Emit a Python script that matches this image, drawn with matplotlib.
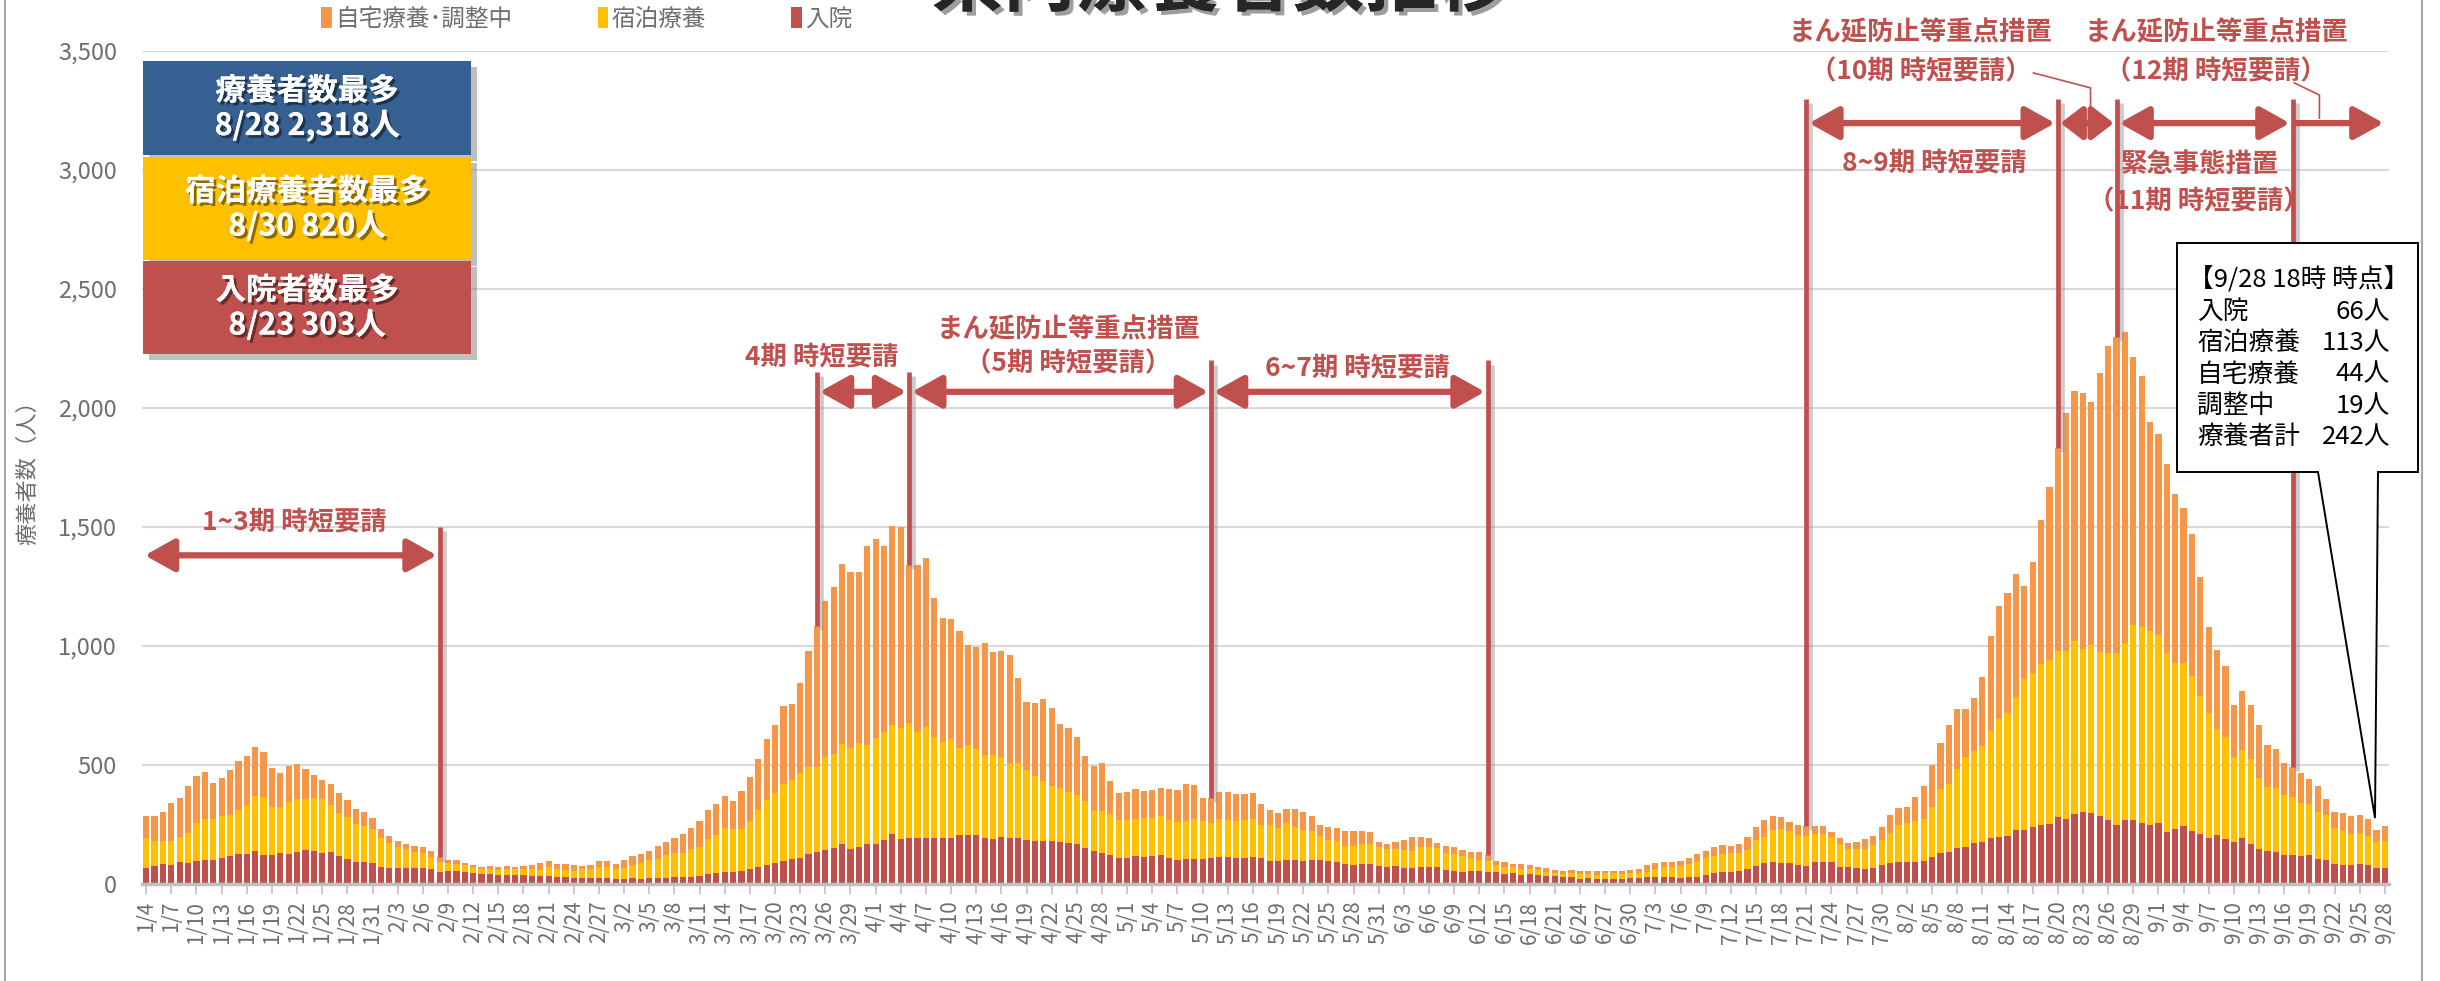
import numpy as np
import pandas as pd
import matplotlib
matplotlib.use("Agg")
import matplotlib.pyplot as plt
import matplotlib.patheffects as pe
from matplotlib.patches import Rectangle, Polygon
from matplotlib.lines import Line2D
from matplotlib.ticker import StrMethodFormatter

plt.rcParams['font.family'] = ['Noto Sans CJK JP', 'DejaVu Sans']

# Daily dates 1/4 - 9/28
dates = pd.date_range("2021-01-04", "2021-09-28")
date_labels = [f"{d.month}/{d.day}" for d in dates]

# 入院
hospital = [
    69, 77, 85, 81, 91, 90, 98, 101, 101, 111,
    119, 127, 127, 139, 123, 123, 129, 127, 133, 143,
    139, 129, 133, 119, 105, 94, 91, 87, 73, 69,
    69, 69, 67, 69, 62, 52, 56, 55, 50, 48,
    42, 42, 38, 38, 38, 38, 35, 35, 35, 31,
    29, 24, 24, 25, 25, 25, 21, 21, 24, 21,
    27, 27, 27, 31, 31, 29, 34, 42, 48, 52,
    52, 56, 63, 70, 78, 88, 98, 104, 109, 126,
    134, 144, 151, 168, 147, 155, 169, 169, 185, 210,
    189, 195, 195, 195, 195, 195, 195, 206, 206, 206,
    195, 190, 197, 192, 192, 185, 181, 181, 181, 175,
    174, 168, 153, 139, 130, 123, 111, 108, 118, 115,
    118, 122, 109, 101, 105, 105, 105, 109, 115, 115,
    111, 111, 113, 111, 98, 98, 102, 99, 98, 102,
    99, 98, 94, 85, 81, 83, 84, 74, 73, 76,
    69, 67, 70, 70, 70, 59, 55, 52, 53, 55,
    52, 50, 43, 46, 39, 42, 38, 35, 34, 29,
    28, 22, 25, 20, 21, 22, 22, 25, 25, 29,
    31, 31, 31, 27, 29, 29, 38, 48, 52, 52,
    56, 63, 76, 87, 94, 87, 87, 80, 77, 91,
    91, 92, 73, 71, 69, 63, 69, 78, 90, 92,
    92, 92, 95, 115, 132, 133, 150, 157, 174, 178,
    195, 199, 203, 227, 227, 239, 249, 253, 280, 272,
    295, 303, 297, 284, 269, 246, 269, 271, 258, 249,
    255, 219, 229, 242, 223, 208, 194, 205, 188, 177,
    194, 170, 145, 139, 136, 121, 121, 116, 121, 107,
    102, 86, 81, 81, 83, 78, 66, 66,
]

# 宿泊療養
hotel = [
    126, 104, 96, 100, 108, 123, 157, 171, 173, 176,
    171, 184, 203, 231, 241, 199, 196, 219, 224, 214,
    224, 228, 200, 181, 178, 158, 153, 143, 122, 102,
    88, 79, 67, 61, 50, 42, 31, 29, 28, 21,
    21, 21, 21, 25, 24, 24, 27, 24, 36, 31,
    30, 32, 38, 37, 46, 46, 41, 46, 54, 66,
    72, 77, 93, 98, 101, 118, 120, 147, 159, 183,
    179, 175, 200, 241, 275, 293, 322, 331, 357, 367,
    359, 391, 395, 420, 426, 436, 415, 444, 453, 456,
    466, 480, 445, 463, 421, 401, 414, 367, 378, 360,
    347, 352, 338, 312, 315, 294, 274, 252, 231, 228,
    212, 206, 196, 168, 177, 171, 158, 161, 155, 162,
    159, 164, 160, 161, 158, 168, 161, 147, 158, 155,
    155, 158, 159, 137, 150, 137, 154, 142, 130, 121,
    104, 87, 87, 76, 80, 84, 84, 81, 73, 71,
    74, 73, 87, 84, 80, 70, 71, 66, 55, 46,
    45, 31, 27, 24, 23, 20, 21, 17, 11, 14,
    17, 19, 16, 19, 24, 23, 21, 21, 21, 21,
    32, 39, 42, 49, 55, 68, 73, 70, 74, 77,
    76, 80, 109, 112, 133, 143, 137, 124, 125, 119,
    119, 104, 94, 76, 78, 84, 95, 107, 126, 154,
    166, 173, 178, 207, 267, 287, 334, 378, 385, 403,
    449, 494, 517, 558, 633, 647, 675, 688, 700, 708,
    725, 685, 709, 691, 703, 726, 745, 819, 820, 814,
    792, 752, 699, 686, 653, 581, 523, 445, 428, 355,
    369, 354, 300, 268, 266, 254, 246, 225, 217, 196,
    190, 148, 141, 130, 131, 125, 111, 113,
]

# 自宅療養・調整中
home = [
    91, 105, 121, 158, 164, 199, 200, 198, 149, 160,
    189, 206, 209, 204, 189, 164, 143, 151, 146, 126,
    96, 80, 86, 82, 70, 62, 60, 47, 36, 31,
    24, 21, 24, 24, 27, 18, 14, 17, 12, 11,
    10, 13, 11, 13, 8, 12, 16, 28, 24, 21,
    26, 22, 12, 16, 24, 24, 22, 32, 41, 40,
    40, 56, 58, 64, 79, 87, 112, 122, 130, 135,
    118, 160, 186, 214, 256, 285, 328, 322, 380, 487,
    592, 654, 700, 756, 739, 721, 838, 836, 783, 839,
    843, 665, 700, 713, 584, 521, 504, 492, 420, 431,
    469, 432, 446, 458, 357, 285, 304, 345, 326, 268,
    268, 243, 190, 190, 203, 139, 115, 116, 125, 115,
    118, 117, 130, 133, 156, 141, 95, 105, 112, 115,
    111, 108, 109, 87, 64, 64, 60, 74, 74, 63,
    45, 56, 56, 60, 60, 57, 49, 23, 22, 31,
    42, 57, 40, 39, 22, 29, 28, 25, 26, 32,
    23, 17, 21, 15, 21, 16, 14, 14, 12, 13,
    12, 12, 15, 14, 10, 10, 10, 13, 17, 28,
    24, 21, 18, 21, 25, 29, 26, 39, 36, 31,
    36, 54, 54, 68, 59, 51, 36, 44, 42, 34,
    34, 22, 25, 25, 28, 41, 39, 53, 72, 72,
    64, 100, 139, 176, 193, 246, 250, 199, 224, 287,
    396, 475, 501, 516, 393, 469, 605, 726, 852, 998,
    1052, 1076, 1021, 1170, 1289, 1328, 1304, 1124, 1056, 879,
    844, 795, 711, 651, 596, 503, 361, 333, 301, 222,
    247, 230, 222, 179, 167, 134, 124, 127, 102, 108,
    64, 69, 76, 73, 77, 72, 51, 63,
]

RED = "#C0504D"
GOLD = "#FFC000"
ORANGE = "#F79646"
BLUE = "#366092"
GRAY = "#6E6E6E"

W, H = 2440, 981


def fx(px):
    return px / W


def fy(py):
    return 1 - py / H


fig = plt.figure(figsize=(W / 100, H / 100), dpi=100)
ax = fig.add_axes([fx(142), fy(884), fx(2389) - fx(142), fy(51) - fy(884)])

x = np.arange(len(dates))
h = np.array(hospital)
ho = np.array(hotel)
hm = np.array(home)
total = h + ho + hm

b1 = ax.bar(x, h, 0.74, color=RED, zorder=2)
b2 = ax.bar(x, ho, 0.74, bottom=h, color=GOLD, zorder=2)
b3 = ax.bar(x, hm, 0.74, bottom=h + ho, color=ORANGE, zorder=2)

ax.set_xlim(-0.5, len(x) - 0.5)
ax.set_ylim(0, 3500)
ax.set_yticks(range(0, 3501, 500))
ax.yaxis.set_major_formatter(StrMethodFormatter("{x:,.0f}"))
ax.grid(axis="y", color="#D9D9D9", lw=1.5, zorder=0)
ax.set_axisbelow(True)
for s in ["top", "right", "left"]:
    ax.spines[s].set_visible(False)
ax.spines["bottom"].set_color("#BFBFBF")
ax.spines["bottom"].set_linewidth(2.5)
ax.set_xticks(x[::3])
ax.set_xticklabels(date_labels[::3], rotation=90, fontsize=15, color=GRAY)
ax.tick_params(axis="x", length=7, color="#BFBFBF", width=1.2, pad=5)
ax.tick_params(axis="y", length=0, labelsize=17, labelcolor=GRAY, pad=18)

fig.text(fx(28), fy(467), "療養者数（人）", rotation=90, fontsize=16,
         color=GRAY, ha="center", va="center")

# legend
fig.legend([b3, b2, b1], ["自宅療養･調整中", "宿泊療養", "入院"],
           loc="center left", bbox_to_anchor=(fx(300), fy(19)), ncol=3,
           frameon=False, fontsize=17, handlelength=0.45, handleheight=1.0,
           handletextpad=0.15, columnspacing=3.6, labelcolor=GRAY)

# title (cut off at top, as in the source)
fig.text(0.5, fy(5), "県内療養者数推移", fontsize=52, fontweight="bold",
         ha="center", va="baseline", color="#262626",
         path_effects=[pe.withSimplePatchShadow(offset=(3, -3), alpha=0.4), pe.Normal()])

# max boxes
shadow = [pe.withSimplePatchShadow(offset=(4, -4), shadow_rgbFace="gray", alpha=0.5), pe.Normal()]
tshadow = [pe.withSimplePatchShadow(offset=(2, -2), shadow_rgbFace="black", alpha=0.45), pe.Normal()]
boxes = [
    (61, 155, BLUE, "療養者数最多", "8/28 2,318人"),
    (157, 260, GOLD, "宿泊療養者数最多", "8/30 820人"),
    (261, 354, RED, "入院者数最多", "8/23 303人"),
]
for y0, y1, c, l1, l2 in boxes:
    fig.add_artist(Rectangle((fx(143), fy(y1)), fx(471) - fx(143), fy(y0) - fy(y1),
                             transform=fig.transFigure, facecolor=c, edgecolor="none",
                             path_effects=shadow, zorder=3))
    ym = (y0 + y1) / 2
    fig.text(fx(307), fy(ym - 17), l1, fontsize=22, fontweight="bold", color="white",
             ha="center", va="center", path_effects=tshadow, zorder=4)
    fig.text(fx(307), fy(ym + 18), l2, fontsize=22, fontweight="bold", color="white",
             ha="center", va="center", path_effects=tshadow, zorder=4)

# period lines and arrows
lshadow = [pe.SimpleLineShadow(offset=(3, -3), shadow_color="#999999", alpha=0.5), pe.Normal()]


def vline(i, top):
    ax.plot([i, i], [total[i], top], color=RED, lw=3.4, solid_capstyle="butt",
            path_effects=lshadow, zorder=4)


def harrow(x0, x1, y, both=True, hl=0.9):
    style = "<|-|>" if both else "-|>"
    ax.annotate("", xy=(x1, y), xytext=(x0, y), annotation_clip=False,
                arrowprops=dict(arrowstyle=f"{style},head_length={hl},head_width=0.5",
                                color=RED, lw=4.5, mutation_scale=20,
                                shrinkA=2, shrinkB=2), zorder=4)


def label(xc, y, s):
    ax.text(xc, y, s, color=RED, fontsize=19, fontweight="bold", ha="center",
            va="center", zorder=5, clip_on=False)


vline(35, 1500)
harrow(-0.5, 35, 1381)
label(17.7, 1518, "1~3期 時短要請")

vline(80, 2150)
vline(91, 2150)
vline(127, 2200)
vline(160, 2200)
harrow(80, 91, 2068)
harrow(91, 127, 2068)
harrow(127, 160, 2068)
label(80.6, 2212, "4期 時短要請")
label(110, 2330, "まん延防止等重点措置")
label(110, 2186, "（5期 時短要請）")
label(144.4, 2166, "6~7期 時短要請")

for i in [198, 228, 235, 256]:
    vline(i, 3298)
harrow(198, 228, 3197)
harrow(228, 235, 3197, hl=0.65)
harrow(235, 256, 3197)
harrow(256, 267.2, 3197, both=False)
label(211.6, 3576, "まん延防止等重点措置")
label(211.6, 3412, "（10期 時短要請）")
label(213.3, 3025, "8~9期 時短要請")
label(246.9, 3576, "まん延防止等重点措置")
label(246.9, 3412, "（12期 時短要請）")
label(244.9, 3025, "緊急事態措置")
label(244.8, 2866, "（11期 時短要請）")
ax.plot([225.1, 231.9, 231.9], [3408, 3345, 3155], color=RED, lw=1.2, zorder=5, clip_on=False)
ax.plot([256.2, 259.2, 259.2], [3366, 3315, 3218], color=RED, lw=1.2, zorder=5, clip_on=False)

# callout box
pts = [(2177, 243), (2418, 243), (2418, 472), (2378, 472), (2375, 818),
       (2318, 472), (2177, 472)]
fig.add_artist(Polygon([(fx(a), fy(b)) for a, b in pts], closed=True,
                       transform=fig.transFigure, facecolor="white",
                       edgecolor="black", lw=1.4, zorder=6))
fig.text(fx(2188), fy(280), "【9/28 18時 時点】", fontsize=18.5, ha="left", va="center", zorder=7)
rows = [("入院", "66人"), ("宿泊療養", "113人"), ("自宅療養", "44人"),
        ("調整中", "19人"), ("療養者計", "242人")]
for k, (a, b) in enumerate(rows):
    yy = 312 + k * 31.3
    fig.text(fx(2197), fy(yy), a, fontsize=18.5, ha="left", va="center", zorder=7)
    fig.text(fx(2390), fy(yy), b, fontsize=18.5, ha="right", va="center", zorder=7)

# outer frame sides
fig.add_artist(Line2D([fx(5), fx(5)], [0, 1], color="#A6A6A6", lw=1.5))
fig.add_artist(Line2D([fx(2422), fx(2422)], [0, 1], color="#A6A6A6", lw=1.5))

fig.savefig("out.png", dpi=100)
